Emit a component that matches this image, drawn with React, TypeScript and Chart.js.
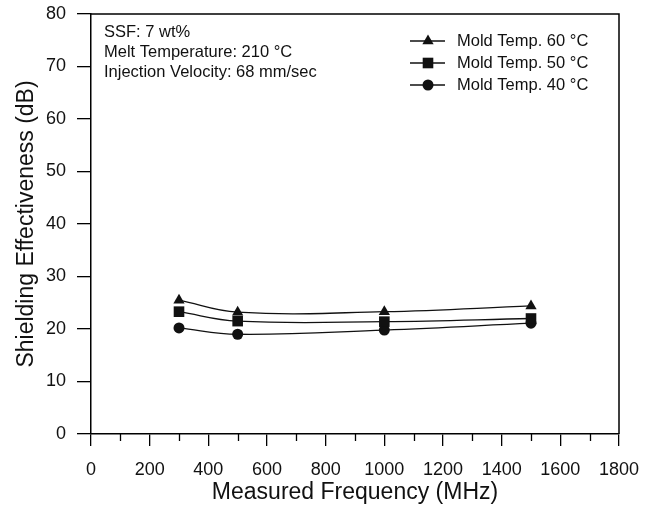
import React, { useEffect, useRef } from 'react';
import { Chart, registerables } from 'chart.js';
import { drawPoint } from 'chart.js/helpers';

Chart.register(...registerables);

const frequencies = [300, 500, 1000, 1500];
const mold60 = [25.5, 23.2, 23.3, 24.4];
const mold50 = [23.3, 21.5, 21.4, 22.0];
const mold40 = [20.2, 19.0, 19.8, 21.1];
const seriesLabels = ['Mold Temp. 60 °C', 'Mold Temp. 50 °C', 'Mold Temp. 40 °C'];
const pointStyles = ['triangle', 'rect', 'circle'];
const pointSizes = [6.5, 7.5, 5.5];
const xTicks = [0, 200, 400, 600, 800, 1000, 1200, 1400, 1600, 1800];
const xMinorTicks = [100, 300, 500, 700, 900, 1100, 1300, 1500, 1700];
const yTicks = [0, 10, 20, 30, 40, 50, 60, 70, 80];
const notes = ['SSF: 7 wt%', 'Melt Temperature: 210 °C', 'Injection Velocity: 68 mm/sec'];

const FONT = '"Liberation Sans", Arial, Helvetica, sans-serif';
const INK = '#111';

const decorPlugin = {
  id: 'decor',
  afterDraw(chart: any) {
    const { ctx, chartArea } = chart;
    const { left, right, top, bottom } = chartArea;
    ctx.save();
    // frame top & right
    ctx.strokeStyle = '#000';
    ctx.lineWidth = 1.5;
    ctx.beginPath();
    ctx.moveTo(left, top);
    ctx.lineTo(right, top);
    ctx.lineTo(right, bottom);
    ctx.stroke();
    // minor ticks on x
    const xs = chart.scales.x;
    ctx.lineWidth = 1.3;
    ctx.beginPath();
    xMinorTicks.forEach((v) => {
      const px = Math.round(xs.getPixelForValue(v)) + 0.5;
      ctx.moveTo(px, bottom);
      ctx.lineTo(px, bottom + 7);
    });
    ctx.stroke();
    // notes
    ctx.fillStyle = INK;
    ctx.font = `16.5px ${FONT}`;
    ctx.textBaseline = 'middle';
    ctx.textAlign = 'left';
    notes.forEach((t, i) => {
      ctx.fillText(t, left + 13, top + 18 + i * 20);
    });
    // legend
    const lx = right - 209;
    chart.data.datasets.forEach((ds: any, i: number) => {
      const y = top + 27 + i * 22;
      ctx.strokeStyle = INK;
      ctx.lineWidth = 1.3;
      ctx.beginPath();
      ctx.moveTo(lx, y);
      ctx.lineTo(lx + 35, y);
      ctx.stroke();
      ctx.fillStyle = INK;
      drawPoint(ctx, { pointStyle: pointStyles[i], radius: pointSizes[i], rotation: 0, borderWidth: 0 } as any, lx + 18, y);
      ctx.fillStyle = INK;
      ctx.font = `16.5px ${FONT}`;
      ctx.textBaseline = 'middle';
      ctx.fillText(ds.label, lx + 47, y);
    });
    ctx.restore();
  },
};

export default function App() {
  const ref = useRef<HTMLCanvasElement>(null);
  useEffect(() => {
    if (!ref.current) return;
    const seriesValues = [mold60, mold50, mold40];
    const chart = new Chart(ref.current, {
      type: 'line',
      data: {
        datasets: seriesValues.map((vals, i) => ({
          label: seriesLabels[i],
          data: frequencies.map((f, j) => ({ x: f, y: vals[j] })),
          borderColor: INK,
          backgroundColor: INK,
          borderWidth: 1.3,
          pointStyle: pointStyles[i] as any,
          pointRadius: pointSizes[i],
          pointBorderWidth: 0,
          pointBackgroundColor: INK,
          tension: 0.4,
          fill: false,
        })),
      },
      options: {
        responsive: false,
        animation: false,
        layout: { padding: { top: 14, right: 35, left: 0, bottom: 0 } },
        plugins: { legend: { display: false }, tooltip: { enabled: false } },
        scales: {
          x: {
            type: 'linear',
            min: 0,
            max: 1800,
            afterBuildTicks: (s: any) => { s.ticks = xTicks.map((v) => ({ value: v })); },
            afterFit: (s: any) => { s.height = 74; s.paddingLeft = 0; s.paddingRight = 0; },
            grid: { display: true, drawOnChartArea: false, drawTicks: true, tickLength: 12, color: '#000', lineWidth: 1.3 },
            border: { display: true, color: '#000', width: 1.5 },
            ticks: { color: INK, font: { family: FONT, size: 18 }, padding: 13, maxRotation: 0, autoSkip: false, callback: (v: any) => String(v) },
            title: { display: true, text: 'Measured Frequency (MHz)', color: INK, font: { family: FONT, size: 23 }, padding: { top: 0, bottom: 2 } },
          },
          y: {
            type: 'linear',
            min: 0,
            max: 80,
            afterBuildTicks: (s: any) => { s.ticks = yTicks.map((v) => ({ value: v })); },
            afterFit: (s: any) => { s.width = 91; s.paddingTop = 0; s.paddingBottom = 0; },
            grid: { display: true, drawOnChartArea: false, drawTicks: true, tickLength: 14, color: '#000', lineWidth: 1.3 },
            border: { display: true, color: '#000', width: 1.5 },
            ticks: { color: INK, font: { family: FONT, size: 18 }, padding: 11, callback: (v: any) => String(v) },
            title: { display: true, text: 'Shielding Effectiveness (dB)', color: INK, font: { family: FONT, size: 23 }, padding: { top: 13, bottom: 0 } },
          },
        },
      },
      plugins: [decorPlugin],
    });
    return () => chart.destroy();
  }, []);
  return (
    <div style={{ position: 'fixed', left: 0, top: 0, width: 654, height: 508, background: '#fff' }}>
      <canvas ref={ref} width={654} height={508} />
    </div>
  );
}
